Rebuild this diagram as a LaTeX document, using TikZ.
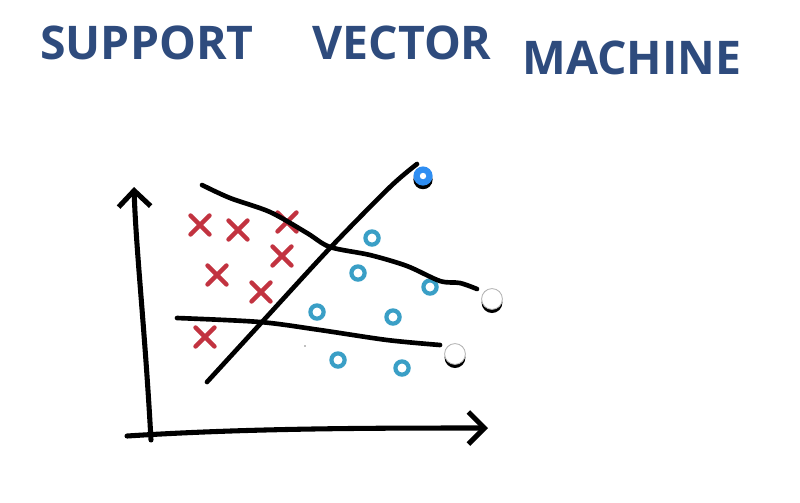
\documentclass[tikz,border=0pt]{standalone}
\usepackage{fontspec}
\newfontfamily\handfont{Open Sans}
\usetikzlibrary{arrows.meta,shapes.misc,shadows}

\definecolor{inkblue}{HTML}{2E4B7D}
\definecolor{xred}{HTML}{C23340}
\definecolor{ocyan}{HTML}{3A9FC6}
\definecolor{handleblue}{HTML}{2F8EF2}

\tikzset{
  pen/.style={line width=3.3pt,line cap=round,line join=round},
  axis/.style={line width=3.6pt,line cap=round,line join=round,
    -{Straight Barb[length=4mm,width=8mm,line width=3.6pt]}},
  xmark/.style={cross out,draw=xred,line width=3.2pt,line cap=round,
    minimum size=3.6mm,inner sep=0pt},
  omark/.style={circle,draw=ocyan,line width=3pt,minimum size=3.3mm,inner sep=0pt},
  title/.style={text=inkblue,font=\handfont\bfseries\fontsize{33}{33}\selectfont},
  handle/.style={circle,draw=gray!60,fill=white,line width=0.6pt,
    minimum size=5.2mm,inner sep=0pt,
    drop shadow={shadow xshift=0pt,shadow yshift=-0.9mm,fill=black,opacity=1}},
  bluehandle/.style={handle,draw=none,fill=handleblue,minimum size=4.8mm},
}

\begin{document}
\begin{tikzpicture}[x=0.025cm,y=-0.025cm,>=Stealth]
  \useasboundingbox (0,0) rectangle (800,502);

  % title
  \node[title] (support) at (147,43) {SUPPORT};
  \node[title] (vector) at (402,43) {VECTOR};
  \node[title] (machine) at (632,58) {MACHINE};

  % axes
  \coordinate (origin) at (151,440);
  \coordinate (ytip) at (134,187);
  \coordinate (xstart) at (127,436);
  \coordinate (xtip) at (488,428);
  \draw[axis] (origin) .. controls (145,330) and (136,250) .. (ytip);
  \draw[axis] (xstart) .. controls (250,428) and (380,428) .. (xtip);

  % classes
  \node[xmark] (x1) at (200,225) {};
  \node[xmark] (x2) at (238,230) {};
  \node[xmark] (x3) at (287,222) {};
  \node[xmark] (x4) at (282,256) {};
  \node[xmark] (x5) at (217,275) {};
  \node[xmark] (x6) at (261,292) {};
  \node[xmark] (x7) at (205,337) {};
  \node[omark] (o1) at (372,238) {};
  \node[omark] (o2) at (358,273) {};
  \node[omark] (o3) at (430,287) {};
  \node[omark] (o4) at (317,312) {};
  \node[omark] (o5) at (393,317) {};
  \node[omark] (o6) at (338,360) {};
  \node[omark] (o7) at (402,368) {};
  \fill[gray] (305,346) circle (0.6pt);

  % separating lines
  \draw[pen] plot[smooth] coordinates
    {(207,382) (262,322) (330,248) (390,187) (417,164)};
  \draw[pen] plot[smooth] coordinates
    {(202,185) (230,198) (270,212) (307,233) (330,247) (370,255)
     (407,266) (440,281) (460,283) (477,289)};
  \draw[pen] plot[smooth] coordinates
    {(177,318) (260,322) (320,330) (387,340) (440,345)};

  % end handles
  \node[bluehandle] (h1) at (423,176) {};
  \fill[white] (h1.center) circle (0.8mm);
  \node[handle] (h2) at (492,299) {};
  \node[handle] (h3) at (455,354) {};
\end{tikzpicture}
\end{document}
